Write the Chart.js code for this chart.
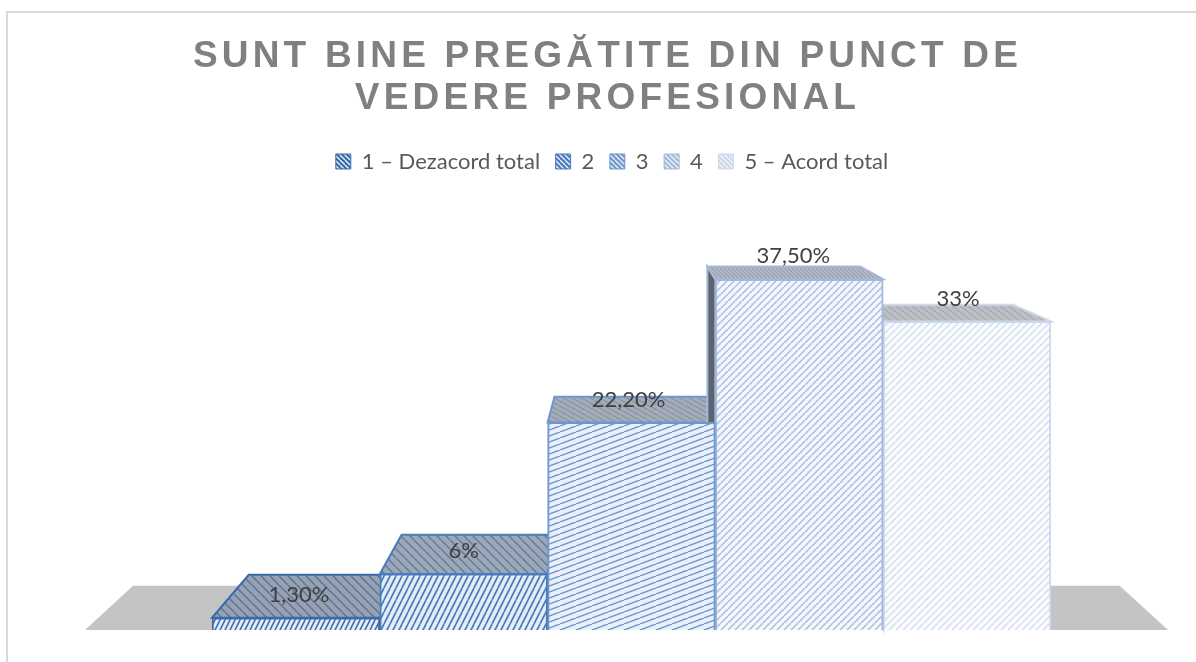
<!DOCTYPE html>
<html>
<head>
<meta charset="utf-8">
<title>Sunt bine pregătite din punct de vedere profesional</title>
<script src="https://cdn.jsdelivr.net/npm/chart.js@4/dist/chart.umd.min.js"></script>
<style>
    html, body { margin: 0; padding: 0; background: #fff; overflow: hidden; }
    #frame { position: absolute; left: 6px; top: 11px; width: 1190px; height: 651px; border-top: 2px solid #d9d9d9; border-left: 2px solid #d9d9d9; box-sizing: border-box; }
    canvas { position: absolute; left: 0; top: 0; }
</style>
</head>
<body>
<div id="frame"></div>
<canvas id="chart" width="1196" height="662"></canvas>
<script>
const titleLines = ['SUNT BINE PREGĂTITE DIN PUNCT DE', 'VEDERE PROFESIONAL'];
const seriesNames = ['1 – Dezacord total', '2', '3', '4', '5 – Acord total'];
const seriesValues = [1.3, 6, 22.2, 37.5, 33];
const valueLabels = ['1,30%', '6%', '22,20%', '37,50%', '33%'];
const seriesColors = ['#3a6ba8', '#4a7cbc', '#6e96cf', '#a3b9dc', '#ccd8eb'];

// stripe tiles: w/h sets the slope of the hatch
function hatch(w, h, line, bg, lineWidth, back) {
    const c = document.createElement('canvas');
    c.width = w;
    c.height = h;
    const g = c.getContext('2d');
    g.fillStyle = bg;
    g.fillRect(0, 0, w, h);
    g.strokeStyle = line;
    g.lineWidth = lineWidth;
    for (let i = -1; i <= 1; i++) {
        g.beginPath();
        if (back) {
            g.moveTo(i * w, 0);
            g.lineTo((i + 1) * w, h);
        } else {
            g.moveTo(i * w, h);
            g.lineTo((i + 1) * w, 0);
        }
        g.stroke();
    }
    return g.createPattern(c, 'repeat');
}

const frontFills = [
    hatch(5, 10, '#3a6ba8', '#e3ecf7', 1.6),
    hatch(6, 12, '#4a7cbc', '#e3ecf7', 1.7),
    hatch(16, 6, '#6e96cf', '#eaf0f9', 1.4),
    hatch(7, 7, '#a9bedf', '#f4f7fb', 1.5),
    hatch(7, 7, '#d3ddee', '#fbfcfe', 1.5)
];
const topFills = [
    hatch(9, 9, '#5c7393', '#96a2b3', 1.5, true),
    hatch(9, 9, '#647b9b', '#9ca7b7', 1.5, true),
    hatch(9, 5, '#808c9e', '#a3acb8', 1, true),
    hatch(4, 4, '#949dab', '#b0b7c2', 1, true),
    hatch(8, 6, '#a5a9ae', '#bcc0c4', 1.2, true)
];
const legendFills = seriesColors.map(color => hatch(5, 5, '#f1f5fa', color, 1.3, true));

// perspective of the 3D box, all back edges run towards this point
const vanishX = 625;
const vanishY = 134;
const depth = 0.089;

function backPoint(x, y) {
    return [x + (vanishX - x) * depth, y + (vanishY - y) * depth];
}

function poly(ctx, pts, fill, stroke) {
    ctx.beginPath();
    pts.forEach((p, i) => i ? ctx.lineTo(p[0], p[1]) : ctx.moveTo(p[0], p[1]));
    ctx.closePath();
    ctx.fillStyle = fill;
    ctx.fill();
    if (stroke) {
        ctx.strokeStyle = stroke;
        ctx.lineWidth = 2;
        ctx.stroke();
    }
}

const box3d = {
    id: 'box3d',
    afterLayout(chart) {
        // title and legend sit left of the plot centre
        chart.titleBlock.left -= 24;
        chart.titleBlock.right -= 24;
        chart.legend.left -= 19.5;
        chart.legend.right -= 19.5;
        if (!chart.titleBlock.spaced) {
            const draw = chart.titleBlock.draw;
            chart.titleBlock.draw = function () {
                chart.ctx.letterSpacing = '4.2px';
                draw.call(this);
                chart.ctx.letterSpacing = '0px';
            };
            chart.titleBlock.spaced = true;
        }
    },
    beforeDatasetsDraw(chart) {
        const ctx = chart.ctx;
        const area = chart.chartArea;
        const floorL = area.left - 127;
        const floorR = area.right + 117;
        poly(ctx, [[floorL, area.bottom], [floorR, area.bottom], backPoint(floorR, area.bottom), backPoint(floorL, area.bottom)], '#c4c4c4');

        seriesValues.forEach((v, i) => {
            const bar = chart.getDatasetMeta(i).data[0];
            const left = bar.x - bar.width / 2;
            const right = bar.x + bar.width / 2;
            // left wall only shows for boxes right of the vanishing point
            if (left > vanishX) {
                poly(ctx, [[left, bar.y], backPoint(left, bar.y), backPoint(left, bar.base), [left, bar.base]], '#59646f', seriesColors[i]);
            }
            poly(ctx, [[left, bar.y], [right, bar.y], backPoint(right, bar.y), backPoint(left, bar.y)], topFills[i], seriesColors[i]);
        });
    },
    afterDatasetsDraw(chart) {
        const ctx = chart.ctx;
        ctx.save();
        ctx.font = '22px Lato, Carlito, sans-serif';
        ctx.fillStyle = '#404040';
        ctx.textAlign = 'center';
        ctx.textBaseline = 'middle';
        valueLabels.forEach((label, i) => {
            const bar = chart.getDatasetMeta(i).data[0];
            // labels drift left a little compared to the bar centres
            ctx.fillText(label, bar.x + 3 - i * 3, bar.y - 23);
        });
        ctx.restore();
    }
};

new Chart(document.getElementById('chart'), {
    type: 'bar',
    data: {
        labels: ['Sunt bine pregătite din punct de vedere profesional'],
        datasets: seriesNames.map((name, i) => ({
            label: name,
            data: [seriesValues[i]],
            backgroundColor: frontFills[i],
            borderColor: seriesColors[i],
            borderWidth: 2
        }))
    },
    options: {
        responsive: false,
        animation: false,
        events: [],
        layout: { padding: { left: 212, right: 145, top: 0, bottom: 32 } },
        datasets: { bar: { barPercentage: 1, categoryPercentage: 1 } },
        scales: {
            x: { display: false },
            y: { display: false, min: 0, max: 47.86 }
        },
        plugins: {
            title: {
                display: true,
                text: titleLines,
                color: '#808080',
                font: { family: '"Liberation Sans", Arial, sans-serif', size: 37, weight: 'bold', lineHeight: 1.135 },
                padding: { top: 36, bottom: 15 }
            },
            legend: {
                position: 'top',
                labels: {
                    color: '#595959',
                    font: { family: 'Lato, Carlito, sans-serif', size: 22 },
                    boxWidth: 15,
                    boxHeight: 15,
                    padding: 15.5,
                    generateLabels(chart) {
                        const items = Chart.defaults.plugins.legend.labels.generateLabels(chart);
                        items.forEach((item, i) => {
                            item.fillStyle = legendFills[i];
                            item.strokeStyle = seriesColors[i];
                            item.lineWidth = 1;
                        });
                        return items;
                    }
                }
            },
            tooltip: { enabled: false }
        }
    },
    plugins: [box3d]
});
</script>
</body>
</html>
